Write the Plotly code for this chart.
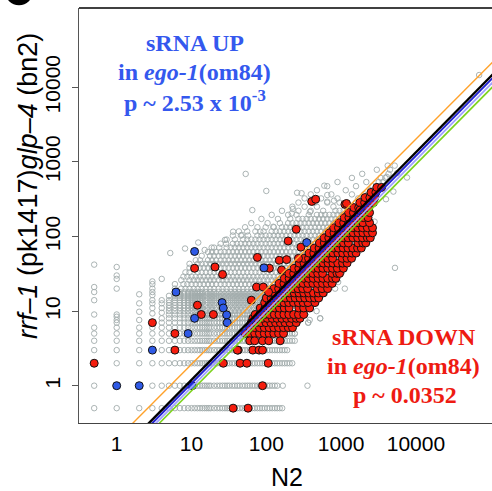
import plotly.graph_objects as go

# ---------------- data: counts ----------------
# gray open circles: low-count columns (N2 = 0.5 ... 4)
gray_col_n2 = [0.5, 1, 2, 3, 4]
gray_col_mut = [
    [0.5, 1, 3, 4, 5, 6, 9, 14, 18, 21, 42],
    [0.5, 2, 3, 4, 5, 6, 7, 7.6, 8.4, 9, 20, 27, 30, 39],
    [0.5, 2, 3, 4, 5, 6, 7.6, 9.8, 12.7, 16.8],
    [0.5, 1, 2, 4, 5, 6, 9.3, 11, 12.7, 14, 16.4, 18, 20, 23, 25],
    [0.5, 1, 2, 3, 4, 5, 6, 7, 8, 9.5, 11, 12.7, 14, 27],
]

# gray open circles: rows (mutant count level -> N2 counts on that row)
gray_row_mut = [0.5, 1, 2, 3, 4, 5, 6, 7, 8, 9, 10, 11, 12, 13, 14, 15, 16, 17, 18,
                20, 23, 26, 29, 33, 38, 43, 48, 55, 62, 71, 80, 91, 103, 117, 133, 151,
                172, 195, 221, 251, 285, 324, 367, 417, 473, 537, 610, 692, 785, 891]
gray_row_n2 = [
    [5, 6, 7, 8, 9, 10, 11, 12, 13, 14, 15, 16, 17, 18, 20, 22, 24, 26, 28, 30, 32, 35, 38, 41, 44, 48, 52, 56, 60, 65, 70, 76, 82, 88, 95, 103, 111, 120, 130, 140, 151, 163],
    [5, 6, 7, 8, 9, 10, 11, 12, 13, 14, 15, 16, 17, 18, 20, 22, 24, 26, 28, 30, 32, 35, 38, 41, 44, 48, 52, 56, 60, 65, 70, 76, 82, 88, 95, 103, 111, 120, 130, 140, 166, 355],
    [5, 6, 7, 8, 9, 10, 11, 12, 13, 14, 15, 16, 17, 18, 20, 22, 24, 26, 28, 30, 32, 35, 38, 41, 44, 48, 52, 56, 60, 65, 70, 76, 82, 88, 95, 103, 111, 120, 130, 140, 151, 163, 176, 190, 205, 222],
    [5, 6, 7, 8, 9, 10, 11, 12, 13, 14, 15, 16, 17, 18, 20, 22, 24, 26, 28, 30, 32, 35, 38, 41, 44, 48, 52, 56, 60, 65, 70, 76, 82, 88, 95, 103, 111, 120, 130, 140, 151, 163, 176, 190],
    [5, 6, 7, 8, 9, 10, 11, 12, 13, 14, 15, 16, 17, 18, 20, 22, 24, 26, 28, 30, 32, 35, 38, 41, 44, 48, 52, 56, 60, 65, 70, 76, 82, 88, 95, 103, 111, 120, 130, 140, 151, 163, 176, 190, 205, 222, 240],
    [5, 6, 7, 8, 9, 10, 11, 12, 13, 14, 15, 16, 17, 18, 20, 22, 24, 26, 28, 30, 32, 35, 38, 41, 44, 48, 52, 56, 60, 65, 70, 76, 82, 88, 95, 103, 111, 120, 130, 140, 151, 163, 176, 190, 205, 222, 240],
    [5, 6, 7, 8, 9, 10, 11, 12, 13, 14, 15, 16, 17, 18, 20, 22, 24, 26, 28, 30, 32, 35, 38, 41, 44, 48, 52, 56, 60, 65, 70, 76, 82, 88, 95, 103, 111, 120, 130, 140, 151, 163, 176, 190, 205, 222],
    [5, 6, 7, 8, 9, 10, 11, 12, 13, 14, 15, 16, 17, 18, 20, 22, 24, 26, 28, 30, 32, 35, 38, 41, 44, 48, 52, 56, 60, 65, 70, 76, 82, 88, 95, 103, 111, 120, 130, 140, 151, 163, 176, 190, 205, 222, 240, 260, 363],
    [5, 6, 7, 8, 9, 10, 11, 12, 13, 14, 15, 16, 17, 18, 20, 22, 24, 26, 28, 30, 32, 35, 38, 41, 44, 48, 52, 56, 60, 65, 70, 76, 82, 88, 95, 103, 111, 120, 130, 140, 151, 163, 176, 190, 205, 222, 240, 260, 525],
    [5, 6, 7, 8, 9, 10, 11, 12, 13, 14, 15, 16, 17, 18, 20, 22, 24, 26, 28, 30, 32, 35, 38, 41, 44, 48, 52, 56, 60, 65, 70, 76, 82, 88, 95, 103, 111, 120, 130, 140, 151, 163, 176, 190, 205, 222, 240, 331],
    [5, 6, 7, 8, 9, 10, 11, 12, 13, 14, 15.6, 17.7, 20, 23, 26, 29.5, 33.5, 38, 43, 49, 55.5, 63, 71.5, 81, 92, 300, 470],
    [5, 6, 7, 8, 9, 10, 11, 12, 13, 14, 16.6, 18.8, 21.3, 24.5, 27.7, 31.4, 35.7, 40.5, 45.8, 52, 59, 67, 76, 86, 98, 347],
    [5, 6, 7, 8, 9, 10, 11, 12, 13, 14, 15.6, 17.7, 20, 23, 26, 29.5, 33.5, 38, 43, 49, 55.5, 63, 71.5, 81, 92, 104, 280],
    [5, 6, 7, 8, 9, 10, 11, 12, 13, 14, 16.6, 18.8, 21.3, 24.5, 27.7, 31.4, 35.7, 40.5, 45.8, 52, 59, 67, 76, 86, 98, 111, 360],
    [5, 6, 7, 8, 9, 10, 11, 12, 13, 14, 15.6, 17.7, 20, 23, 26, 29.5, 33.5, 38, 43, 49, 55.5, 63, 71.5, 81, 92, 104, 118, 400],
    [6, 7, 8, 9, 10, 11, 12, 13, 14, 16.6, 18.8, 21.3, 24.5, 27.7, 31.4, 35.7, 40.5, 45.8, 52, 59, 67, 76, 86, 98, 111, 126],
    [5, 6, 7, 8, 9, 10, 11, 12, 13, 14, 15.6, 17.7, 20, 23, 26, 29.5, 33.5, 38, 43, 49, 55.5, 63, 71.5, 81, 92, 104, 118, 134, 330],
    [6, 7, 8, 9, 10, 11, 12, 13, 14, 16.6, 18.8, 21.3, 24.5, 27.7, 31.4, 35.7, 40.5, 45.8, 52, 59, 67, 76, 86, 98, 111, 126, 143, 603],
    [6, 7, 8, 9, 10, 11, 12, 13, 14, 15.6, 17.7, 20, 23, 26, 29.5, 33.5, 38, 43, 49, 55.5, 63, 71.5, 81, 92, 104, 118, 134, 152, 420],
    [6, 7.3, 8.3, 9.4, 10.7, 12.1, 13.7, 15.6, 17.7, 20, 23, 26, 29.5, 33.5, 38, 43, 49, 55.5, 63, 71.5, 81, 92, 104, 118, 134, 152, 173, 832],
    [6.0, 7.8, 8.8, 10, 11.4, 12.9, 14.6, 16.6, 18.8, 21.3, 24.5, 27.7, 31.4, 35.7, 40.5, 45.8, 52, 59, 67, 76, 86, 98, 111, 126, 143, 162, 184],
    [7.3, 9.4, 10.7, 12.1, 13.7, 15.6, 17.7, 20, 23, 26, 29.5, 33.5, 38, 43, 49, 55.5, 63, 71.5, 81, 92, 104, 118, 134, 152, 173, 196, 871],
    [7.8, 8.8, 10, 11.4, 12.9, 14.6, 16.6, 18.8, 21.3, 24.5, 27.7, 31.4, 35.7, 40.5, 45.8, 52, 59, 67, 76, 86, 98, 111, 126, 143, 162, 184, 209],
    [8.3, 9.4, 12.1, 13.7, 15.6, 17.7, 20, 23, 26, 29.5, 33.5, 38, 43, 49, 55.5, 63, 71.5, 81, 92, 104, 118, 134, 152, 173, 196, 223, 253, 1023],
    [9.4, 11, 12.9, 14.6, 16.6, 18.8, 21.3, 24.5, 27.7, 31.4, 35.7, 40.5, 45.8, 52, 59, 67, 76, 86, 98, 111, 126, 143, 162, 184, 209, 237, 269, 5250],
    [9.4, 12.1, 13.7, 15.6, 17.7, 20, 23, 26, 29.5, 33.5, 38, 43, 49, 55.5, 63, 71.5, 81, 92, 104, 118, 134, 152, 173, 196, 223, 253, 287, 325],
    [11.4, 13, 16.6, 18.8, 21.3, 24.5, 27.7, 31.4, 35.7, 40.5, 45.8, 52, 59, 67, 76, 86, 98, 111, 126, 143, 162, 184, 209, 237, 269, 305, 346],
    [13.7, 17.7, 20, 23, 26, 29.5, 33.5, 38, 43, 49, 55.5, 63, 71.5, 81, 92, 104, 118, 134, 152, 173, 196, 223, 253, 287, 325, 369, 419],
    [16.6, 18.8, 21.3, 24.5, 27.7, 31.4, 35.7, 40.5, 45.8, 52, 59, 67, 76, 86, 98, 111, 126, 143, 162, 184, 209, 237, 269, 305, 346, 393, 446],
    [20, 23.5, 29.5, 33.5, 38, 43, 49, 55.5, 63, 71.5, 81, 92, 104, 118, 134, 152, 173, 196, 223, 253, 287, 325, 369, 419, 475, 540],
    [24.5, 29, 35.7, 40.5, 45.8, 52, 59, 67, 76, 86, 98, 111, 126, 143, 162, 184, 209, 237, 269, 305, 346, 393, 446, 506, 575],
    [29.5, 38, 49, 55.5, 63, 71.5, 81, 92, 104, 118, 134, 152, 173, 196, 223, 253, 287, 325, 369, 419, 475, 540, 612, 695],
    [35.7, 45.8, 57, 76, 86, 98, 111, 126, 143, 162, 184, 209, 237, 269, 305, 346, 393, 446, 506, 575, 652, 740],
    [43, 55.5, 71.5, 92, 118, 134, 152, 173, 196, 223, 253, 287, 325, 369, 419, 475, 540, 612, 695, 789, 895],
    [52, 76, 98, 126, 162, 184, 209, 237, 269, 305, 346, 393, 446, 506, 575, 652, 740, 840, 953],
    [63, 104, 152, 196, 223, 253, 287, 325, 369, 419, 475, 540, 612, 695, 789, 895, 1016, 1153],
    [86, 143, 209, 269, 305, 346, 393, 446, 506, 575, 652, 740, 840, 953, 1082, 1228],
    [118, 196, 253, 369, 475, 540, 612, 695, 789, 895, 1016, 1153, 1309, 1486],
    [162, 269, 393, 575, 840, 953, 1082, 1228, 1394, 1582, 1795],
    [223, 325, 475, 789, 1153, 1309, 1486, 1686, 1914],
    [269, 446, 652, 953, 1582, 1795, 2038, 2313],
    [325, 540, 895, 1686, 1914, 2172, 2465],
    [393, 740, 1394, 2038, 2313, 2625],
    [475, 1153, 2465, 2798, 3176],
    [652, 1582, 2625, 2980, 3380],
    [895, 2172, 3176, 3600],
    [1394, 3380, 3900],
    [1914, 4300],
    [3000, 4500],
    [4200, 5200],
]

# isolated gray circles
gray_extra_n2 = [5.2, 8.2, 12.3, 15, 18.6, 28, 36, 47, 65, 53, 100, 83, 124, 258, 296, 596, 653, 804,
                 653, 226, 219, 383, 70000, 4070, 7600, 2800, 3980, 5000, 5600, 1120, 912, 603, 347,
                 380, 257, 1023, 871, 525, 363, 331, 240]
gray_extra_mut = [60, 69, 83, 66, 71, 90, 116, 105, 226, 690, 408, 116, 135, 386, 380, 480, 360, 302,
                  293, 234, 204, 214, 14600, 630, 617, 158, 316, 400, 708, 20, 24.5, 17.4, 11,
                  7.6, 7.6, 35.5, 26.3, 8, 7, 9, 5]

# red filled circles (sRNA down in ego-1): bands of mutant count -> N2 counts
red_band_mut = [5, 6, 7, 8, 9, 11, 13, 15, 17.5, 20, 23.5, 27.5, 32, 37.5, 44, 51, 60, 70, 82, 96,
                112, 131, 153, 179, 209, 244, 285, 333, 390, 455]
red_band_n2 = [
    [52, 60, 70, 81, 94, 109, 126, 146, 170],
    [60, 70, 81, 94, 109, 126, 146, 170, 197, 224],
    [63, 73, 85, 99, 115, 133, 154, 178, 207, 251],
    [66, 77, 89, 103, 120, 139, 161, 187, 217, 252, 282],
    [71, 82, 95, 110, 128, 148, 172, 200, 232, 269, 316],
    [83, 96, 112, 130, 150, 174, 202, 272, 316, 380],
    [95, 110, 128, 148, 172, 199, 231, 268, 311, 361, 447],
    [100, 116, 135, 156, 181, 210, 243, 282, 327, 380, 441, 501],
    [112, 130, 151, 175, 203, 236, 273, 317, 368, 427, 496, 575],
    [126, 146, 170, 197, 228, 265, 307, 356, 480, 557, 660],
    [148, 172, 199, 231, 268, 311, 361, 419, 486, 564, 654, 759],
    [174, 202, 234, 272, 315, 366, 424, 492, 571, 662, 768, 851],
    [200, 232, 269, 312, 362, 420, 487, 565, 760, 882, 955],
    [234, 272, 315, 366, 424, 492, 571, 662, 768, 891, 1072],
    [275, 319, 370, 429, 498, 578, 670, 777, 902, 1046, 1202],
    [316, 367, 425, 493, 572, 664, 770, 1036, 1202, 1380],
    [372, 431, 500, 580, 673, 781, 906, 1050, 1220, 1400, 1585],
    [437, 507, 588, 682, 791, 918, 1065, 1235, 1433, 1660, 1862],
    [513, 595, 690, 800, 928, 1077, 1249, 1681, 1950, 2138],
    [590, 684, 794, 921, 1068, 1239, 1437, 1667, 1934, 2243, 2455],
    [692, 803, 931, 1080, 1253, 1453, 1686, 1956, 2269, 2630],
    [794, 921, 1068, 1239, 1437, 1667, 1934, 2243, 2630],
    [933, 1082, 1255, 1456, 1689, 1959, 2400],
    [1096, 1271, 1475, 1711, 1985, 2290],
    [1259, 1460, 1694, 1965, 2400],
    [1479, 1716, 1990, 2309],
    [1778, 2062, 2392, 2700],
    [2089, 2423, 2811],
    [2512, 2914],
    [3000, 3480],
]
red_extra_n2 = [0.5, 3, 6, 6, 11, 12, 13.5, 19.6, 20.6, 26, 76, 110, 42, 44.6, 55, 26.6, 106, 36, 57,
                89, 41, 66, 80, 89, 60, 70, 89, 108, 153, 405, 457, 1125, 251, 196, 290, 149, 187,
                269, 160, 1780, 1180, 74, 91, 107, 63]
red_extra_mut = [2, 7, 5, 3, 37.5, 12, 9, 9, 39, 31, 52.5, 37.5, 3, 2, 2, 2, 2, 0.5, 0.5,
                 1, 3, 3, 3, 3, 4, 4, 4, 4, 4, 295, 316, 270, 125, 87, 72, 48, 49,
                 51, 35.6, 226, 277, 21, 21, 18, 14]

# blue filled circles (sRNA up in ego-1)
blue_n2 = [1, 2, 3, 9, 11, 6.2, 11, 25.6, 26.6, 29.5, 30, 93, 347, 10.2]
blue_mut = [1, 1, 3, 5, 8, 18, 63, 13, 11, 8.9, 7, 38, 83, 1]

# fitted lines in log-log space: log10(mut) = slope*log10(N2) + intercept
line_slope = [1.012, 1.015, 1.017, 1.017, 1.006]
line_intercept = [-1.08, -1.035, -0.986, -0.939, -0.719]
line_color = ['#7ed321', '#a0a0ff', '#2323d2', '#000000', '#ffa22b']
line_width = [1.6, 1.8, 2.0, 2.4, 1.4]

tick_vals = [1, 10, 100, 1000, 10000]
tick_text = ['1', '10', '100', '1000', '10000']

# ---------------- figure ----------------
W, H = 492, 491
ML, MR, MT, MB = 79, 0, 8, 68
PW, PH = W - ML - MR, H - MT - MB


def px(x):
    return (x - ML) / PW


def py(y):
    return (H - MB - y) / PH


fig = go.Figure()

gx, gy = [], []
for xv, ys in zip(gray_col_n2, gray_col_mut):
    gx += [xv] * len(ys)
    gy += ys
for yv, xs in zip(gray_row_mut, gray_row_n2):
    gx += xs
    gy += [yv] * len(xs)
gx += gray_extra_n2
gy += gray_extra_mut
fig.add_trace(go.Scatter(
    x=gx, y=gy, mode='markers', hoverinfo='skip',
    marker=dict(symbol='circle-open', size=5.5, color='#a2abab', line=dict(width=0.9, color='#a2abab'))))

rx, ry = [], []
for yv, xs in zip(red_band_mut, red_band_n2):
    rx += xs
    ry += [yv] * len(xs)
rx += red_extra_n2
ry += red_extra_mut
fig.add_trace(go.Scatter(
    x=rx, y=ry, mode='markers', hoverinfo='skip',
    marker=dict(symbol='circle', size=8, color='#f51d0e', line=dict(width=1, color='#111111'))))

fig.add_trace(go.Scatter(
    x=blue_n2, y=blue_mut, mode='markers', hoverinfo='skip',
    marker=dict(symbol='circle', size=8, color='#2f5ae6', line=dict(width=1, color='#111111'))))

log_ends = [-0.7, 5.3]
for m, b, c, w in zip(line_slope, line_intercept, line_color, line_width):
    fig.add_trace(go.Scatter(
        x=[10 ** v for v in log_ends], y=[10 ** (m * v + b) for v in log_ends],
        mode='lines', line=dict(color=c, width=w), hoverinfo='skip'))

axis_font = dict(family='Liberation Sans, Arial, sans-serif', size=21, color='black')
fig.update_xaxes(type='log', range=[-0.504, 5.017], tickvals=tick_vals, ticktext=tick_text,
                 ticks='', showgrid=False, zeroline=False, showline=True, linecolor='#444',
                 linewidth=1, tickfont=axis_font, ticklabelstandoff=2)
fig.update_yaxes(type='log', range=[-0.5, 5.063], tickvals=tick_vals, ticktext=tick_text,
                 ticks='outside', ticklen=6, tickwidth=1, tickcolor='#555', tickangle=-90,
                 showgrid=False, zeroline=False, showline=True, linecolor='#555', linewidth=1,
                 tickfont=axis_font, ticklabelstandoff=4)

serif = 'Liberation Serif, Times New Roman, serif'
blue_txt = '#3458ee'
red_txt = '#ee1b12'
ann = [
    (194.5, 43, '<b>sRNA UP</b>', blue_txt),
    (194.5, 72, '<b>in <i>ego-1</i>(om84)</b>', blue_txt),
    (195, 101, '<b>p ~ 2.53 x 10<sup>-3</sup></b>', blue_txt),
    (404, 337, '<b>sRNA DOWN</b>', red_txt),
    (403, 366, '<b>in <i>ego-1</i>(om84)</b>', red_txt),
    (405, 395, '<b>p ~ 0.0352</b>', red_txt),
]
annotations = [dict(x=px(a), y=py(b), xref='paper', yref='paper', text=t, showarrow=False,
                    xanchor='center', yanchor='middle', font=dict(family=serif, size=24, color=c))
               for a, b, t, c in ann]
annotations.append(dict(x=px(287), y=py(477), xref='paper', yref='paper', text='N2', showarrow=False,
                        xanchor='center', yanchor='middle',
                        font=dict(family='Liberation Sans, Arial, sans-serif', size=25, color='black')))
annotations.append(dict(x=px(28), y=py(186), xref='paper', yref='paper', textangle=-90,
                        text='<i>rrf\u20131</i> (pk1417)<i>glp\u20134</i> (bn2)', showarrow=False,
                        xanchor='center', yanchor='middle',
                        font=dict(family='Liberation Sans, Arial, sans-serif', size=27, color='black')))

shapes = [
    dict(type='line', xref='paper', yref='paper', x0=0, x1=1.01, y0=1, y1=1,
         line=dict(color='black', width=1.5)),
    dict(type='circle', xref='paper', yref='paper', x0=px(5), x1=px(33), y0=py(5.3), y1=py(-22.8),
         fillcolor='black', line=dict(color='black', width=0)),
]

fig.update_layout(width=W, height=H, margin=dict(l=ML, r=MR, t=MT, b=MB, pad=0),
                  paper_bgcolor='white', plot_bgcolor='white', showlegend=False,
                  hovermode=False, annotations=annotations, shapes=shapes)

fig.write_html('out.html', config={'displayModeBar': False})
